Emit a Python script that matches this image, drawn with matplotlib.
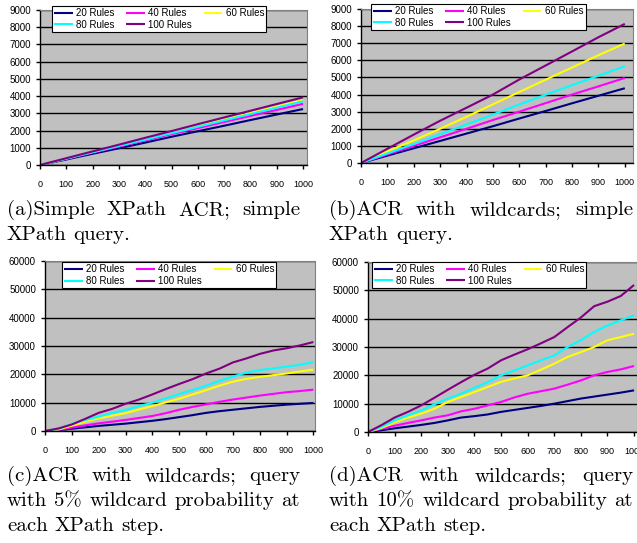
import matplotlib
matplotlib.use("Agg")
from matplotlib import pyplot as plt

# Series labels and colours (Excel default palette)
labels = ['20 Rules', '40 Rules', '60 Rules', '80 Rules', '100 Rules']
colors = ['#000080', '#FF00FF', '#FFFF00', '#00FFFF', '#800080']

# (a) simple XPath ACR, simple query
x_ab = [0, 100, 200, 300, 400, 500, 600, 700, 800, 900, 1000]
a_20 = [0, 320, 650, 970, 1300, 1640, 1960, 2280, 2610, 2930, 3250]
a_40 = [0, 360, 720, 1070, 1430, 1790, 2140, 2500, 2850, 3200, 3550]
a_60 = [0, 380, 760, 1140, 1510, 1890, 2270, 2640, 3020, 3390, 3770]
a_80 = [0, 370, 740, 1110, 1480, 1850, 2220, 2590, 2960, 3330, 3700]
a_100 = [0, 395, 790, 1180, 1580, 1970, 2370, 2760, 3150, 3540, 3930]

# (b) ACR with wildcards, simple query
b_20 = [0, 430, 860, 1290, 1720, 2150, 2600, 3040, 3490, 3930, 4370]
b_40 = [0, 500, 1000, 1500, 2000, 2510, 3000, 3500, 4000, 4480, 4970]
b_60 = [0, 680, 1320, 2000, 2700, 3430, 4150, 4870, 5580, 6300, 6980]
b_80 = [0, 560, 1110, 1680, 2250, 2830, 3420, 3990, 4550, 5100, 5650]
b_100 = [0, 830, 1660, 2470, 3230, 4000, 4880, 5700, 6520, 7350, 8130]

# (c) 5% wildcard probability
x_cd = [0, 50, 100, 150, 200, 250, 300, 350, 400, 450, 500,
        550, 600, 650, 700, 750, 800, 850, 900, 950, 1000]
c_20 = [0, 300, 800, 1300, 1800, 2200, 2600, 3100, 3600, 4200, 4900,
        5600, 6400, 7000, 7500, 8000, 8500, 8900, 9300, 9600, 9900]
c_40 = [0, 400, 1200, 2000, 2700, 3300, 3900, 4600, 5300, 6300, 7500,
        8500, 9400, 10300, 11100, 11800, 12500, 13100, 13700, 14100, 14600]
c_60 = [0, 500, 1900, 3300, 4500, 5400, 6300, 7600, 8800, 10100, 11400,
        12900, 14400, 16000, 17400, 18400, 19100, 19700, 20300, 21000, 21700]
c_80 = [0, 700, 2500, 3900, 5100, 6400, 7400, 8800, 10000, 11500, 13000,
        14500, 16000, 17700, 19200, 20600, 21500, 22100, 22700, 23400, 24300]
c_100 = [0, 900, 2300, 4300, 6400, 7800, 9600, 11100, 12900, 14800, 16600,
         18300, 20300, 22000, 24200, 25600, 27200, 28400, 29200, 30200, 31400]

# (d) 10% wildcard probability
d_20 = [0, 600, 1300, 1900, 2500, 3200, 4100, 5100, 5600, 6200, 7100,
        7800, 8500, 9200, 10000, 10900, 11800, 12500, 13200, 13900, 14700]
d_40 = [0, 1100, 2200, 3200, 4100, 5100, 5900, 7300, 8200, 9400, 10600,
        12200, 13500, 14400, 15300, 16700, 18200, 20000, 21200, 22100, 23300]
d_60 = [0, 1400, 3400, 5100, 6500, 8200, 10600, 12400, 14100, 15900, 17700,
        18900, 20000, 22000, 24100, 26500, 28200, 30000, 32400, 33500, 34700]
d_80 = [0, 1800, 4100, 5900, 7600, 9800, 11800, 13500, 15600, 17600, 20000,
        21700, 23500, 25300, 27000, 30000, 32400, 35300, 37600, 39400, 41200]
d_100 = [0, 2400, 5100, 7100, 9400, 12100, 14900, 17600, 20200, 22400, 25300,
         27300, 29200, 31300, 33500, 37000, 40400, 44400, 46000, 48000, 51900]

captions = [
    ["(a)Simple XPath ACR; simple", "XPath query."],
    ["(b)ACR with wildcards; simple", "XPath query."],
    ["(c)ACR with wildcards; query", "with 5% wildcard probability at", "each XPath step."],
    ["(d)ACR with wildcards; query", "with 10% wildcard probability at", "each XPath step."],
]

W, H = 637, 543
CAP_SIZE = 15


# Draw one Excel-like panel
def panel(rect, x, series, ymax, ystep, xmax, leg_anchor):
    ax = fig.add_axes(rect)
    ax.set_facecolor('#C0C0C0')
    for y, c, l in zip(series, colors, labels):
        ax.plot(x, y, color=c, lw=1.5, label=l, solid_capstyle='butt')
    ax.set_xlim(0, xmax)
    ax.set_ylim(0, ymax)
    ax.set_xticks(x_ab)
    ax.set_yticks(range(0, ymax + 1, ystep))
    ax.grid(axis='y', color='black', lw=1.0)
    ax.set_axisbelow(True)
    for s in ['top', 'right']:
        ax.spines[s].set_color('#808080')
        ax.spines[s].set_linewidth(0.8)
    for s in ['left', 'bottom']:
        ax.spines[s].set_color('black')
        ax.spines[s].set_linewidth(1.0)
    ax.tick_params(axis='y', direction='out', length=3, width=1, pad=3.5,
                   labelsize=7)
    ax.tick_params(axis='x', direction='out', length=3, width=1, pad=7.5,
                   labelsize=6.5)

    # legend order so rows read 20/40/60 and 80/100
    h, lab = ax.get_legend_handles_labels()
    order = [0, 3, 1, 4, 2]
    leg = ax.legend([h[i] for i in order], [lab[i] for i in order], ncol=3,
                    loc='upper left', bbox_to_anchor=leg_anchor,
                    fontsize=7, frameon=True, fancybox=False, framealpha=1,
                    edgecolor='black', handlelength=1.9, handletextpad=0.35,
                    columnspacing=1.2, labelspacing=0.15, borderpad=0.25,
                    borderaxespad=0)
    leg.get_frame().set_linewidth(0.8)
    return ax


# Write caption lines, justifying all but the last one
def caption(lines, x0, x1, baselines):
    r = fig.canvas.get_renderer()
    sp = fig.text(0, 0, 'a a', fontsize=CAP_SIZE, family='cmr10')
    nosp = fig.text(0, 0, 'aa', fontsize=CAP_SIZE, family='cmr10')
    space = sp.get_window_extent(r).width - nosp.get_window_extent(r).width
    sp.remove()
    nosp.remove()
    for i, (line, yb) in enumerate(zip(lines, baselines)):
        words = line.split(' ')
        texts = [fig.text(0, 1 - yb / H, w, fontsize=CAP_SIZE, family='cmr10',
                          va='baseline', ha='left') for w in words]
        widths = [t.get_window_extent(r).width for t in texts]
        if i < len(lines) - 1 and len(words) > 1:
            gap = (x1 - x0 - sum(widths)) / (len(words) - 1)
        else:
            gap = space
        xp = x0
        for t, w in zip(texts, widths):
            t.set_x(xp / W)
            xp += w + gap


if __name__ == '__main__':

    plt.rcParams['font.family'] = ['Liberation Sans', 'DejaVu Sans']
    fig = plt.figure(figsize=(W / 100, H / 100), dpi=100)

    # axes rectangles in pixels (left, top, right, bottom)
    def rect(l, t, r, b):
        return [l / W, 1 - b / H, (r - l) / W, (b - t) / H]

    panel(rect(40, 10, 307, 165), x_ab, [a_20, a_40, a_60, a_80, a_100],
          9000, 1000, 1015, (0.045, 1.026))
    panel(rect(361, 9, 633, 163), x_ab, [b_20, b_40, b_60, b_80, b_100],
          9000, 1000, 1031, (0.037, 1.034))
    panel(rect(45, 261, 315, 431), x_cd, [c_20, c_40, c_60, c_80, c_100],
          60000, 10000, 1006, (0.063, 0.994))
    panel(rect(368, 262, 637, 432), x_cd, [d_20, d_40, d_60, d_80, d_100],
          60000, 10000, 1011, (0.015, 1.0))

    caption(captions[0], 7, 300, [215, 240])
    caption(captions[1], 329, 633, [215, 240])
    caption(captions[2], 7, 300, [481, 506, 531])
    caption(captions[3], 329, 633, [481, 506, 531])

    fig.savefig('out.png', dpi=100)
